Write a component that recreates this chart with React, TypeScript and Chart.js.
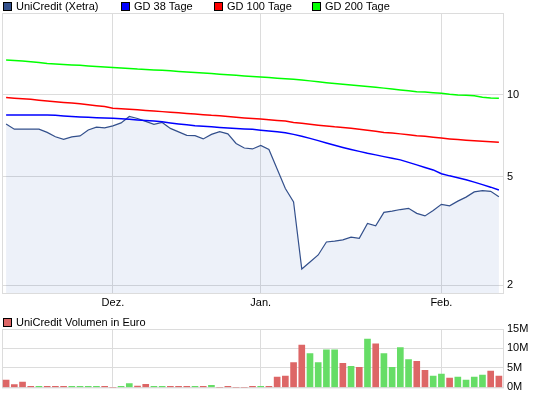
import React, { useEffect, useRef } from 'react';
import { Chart, registerables } from 'chart.js';

Chart.register(...registerables);

// ---- data (one entry per trading day) ----
const priceClose = [
  7.82, 7.48, 7.48, 7.48, 7.48, 7.28, 7.02, 6.87, 7.01, 7.07,
  7.43, 7.61, 7.56, 7.69, 7.89, 8.33, 8.19, 7.99, 7.79, 7.92,
  7.53, 7.31, 7.10, 7.08, 6.89, 7.16, 7.33, 7.19, 6.63, 6.38,
  6.33, 6.52, 6.30, 5.34, 4.53, 4.04, 2.29, 2.43, 2.58, 2.88,
  2.90, 2.93, 3.00, 2.97, 3.37, 3.30, 3.70, 3.74, 3.79, 3.83,
  3.67, 3.59, 3.76, 3.96, 3.91, 4.07, 4.21, 4.40, 4.45, 4.42,
  4.22,
];
const gd38 = [
  8.44, 8.44, 8.44, 8.44, 8.44, 8.44, 8.41, 8.37, 8.33, 8.30,
  8.28, 8.25, 8.23, 8.21, 8.17, 8.13, 8.09, 8.06, 8.02, 7.96,
  7.89, 7.82, 7.76, 7.70, 7.67, 7.63, 7.59, 7.56, 7.53, 7.50,
  7.47, 7.42, 7.37, 7.32, 7.26, 7.16, 7.05, 6.92, 6.79, 6.66,
  6.53, 6.41, 6.30, 6.20, 6.10, 6.02, 5.93, 5.85, 5.77, 5.65,
  5.53, 5.41, 5.30, 5.13, 5.04, 4.96, 4.88, 4.78, 4.68, 4.58,
  4.47,
];
const gd100 = [
  9.79, 9.73, 9.68, 9.63, 9.56, 9.50, 9.44, 9.38, 9.33, 9.27,
  9.20, 9.13, 9.06, 8.94, 8.90, 8.85, 8.81, 8.77, 8.73, 8.68,
  8.63, 8.59, 8.54, 8.50, 8.46, 8.41, 8.38, 8.33, 8.28, 8.23,
  8.19, 8.15, 8.11, 8.06, 8.01, 7.92, 7.86, 7.80, 7.74, 7.69,
  7.63, 7.59, 7.54, 7.47, 7.41, 7.35, 7.28, 7.24, 7.19, 7.14,
  7.08, 7.04, 6.99, 6.94, 6.89, 6.85, 6.81, 6.78, 6.76, 6.73,
  6.70,
];
const gd200 = [
  13.45, 13.39, 13.32, 13.24, 13.16, 13.04, 12.98, 12.94, 12.88, 12.84,
  12.78, 12.73, 12.67, 12.61, 12.55, 12.50, 12.44, 12.40, 12.35, 12.31,
  12.26, 12.20, 12.14, 12.09, 12.03, 11.98, 11.92, 11.86, 11.80, 11.74,
  11.68, 11.63, 11.58, 11.52, 11.47, 11.42, 11.34, 11.26, 11.18, 11.09,
  11.01, 10.94, 10.87, 10.80, 10.74, 10.67, 10.59, 10.51, 10.43, 10.36,
  10.28, 10.24, 10.19, 10.15, 10.06, 10.00, 9.97, 9.92, 9.81, 9.75,
  9.72,
];
const volumeMillions = [
  1.85, 0.75, 1.35, 0.3, 0.3, 0.3, 0.3, 0.3, 0.3, 0.3,
  0.3, 0.3, 0.3, 0, 0.3, 1.0, 0.35, 0.8, 0.3, 0.3,
  0.3, 0.3, 0.3, 0.3, 0.3, 0.55, 0, 0.3, 0, 0,
  0.3, 0.3, 0.3, 2.67, 2.9, 6.4, 10.9, 8.67, 6.4, 9.67,
  9.67, 6.17, 5.4, 5.17, 12.4, 11.2, 8.67, 5.17, 10.2, 7.17,
  6.67, 4.4, 2.9, 3.4, 2.4, 2.67, 1.9, 2.67, 3.17, 4.17,
  2.9,
];
// 1 = up day (green bar), 0 = down day (red bar)
const volumeUp = [
  0, 0, 0, 0, 1, 0, 0, 0, 1, 1,
  1, 1, 0, 0, 1, 1, 0, 0, 1, 1,
  0, 0, 0, 1, 0, 1, 0, 0, 0, 0,
  0, 1, 0, 0, 0, 0, 0, 1, 1, 1,
  1, 0, 1, 0, 1, 0, 1, 1, 1, 1,
  0, 0, 1, 1, 0, 1, 1, 1, 1, 0,
  0,
];
const monthTickIndex = [13, 31, 53];
const monthTickLabel = ['Dez.', 'Jan.', 'Feb.'];
const priceTicks = [2, 5, 10];
const volumeTicks = [0, 5, 10, 15];

const seriesLabels = ['UniCredit (Xetra)', 'GD 38 Tage', 'GD 100 Tage', 'GD 200 Tage'];
const volumeLabel = 'UniCredit Volumen in Euro';

// ---- styles ----
const FONT = '"Liberation Sans", Arial, Helvetica, sans-serif';
const GRID = '#dcdcdc';
const PRICE_COLOR = '#33508c';
const RED = '#dd6666';
const GREEN = '#66dd66';

Chart.defaults.font.family = FONT;
Chart.defaults.font.size = 11;
Chart.defaults.color = '#000';

const framePlugin = {
  id: 'frame',
  beforeDatasetsDraw(chart: any) {
    const { ctx, chartArea: a } = chart;
    ctx.save();
    ctx.strokeStyle = GRID;
    ctx.lineWidth = 1;
    ctx.strokeRect(a.left + 0.5, a.top + 0.5, a.right - a.left, a.bottom - a.top);
    ctx.restore();
  },
};

function makeLegend(items: { label: string; color: string }[], xs: number[], y: number) {
  return {
    id: 'boxLegend',
    afterDraw(chart: any) {
      const ctx = chart.ctx;
      ctx.save();
      ctx.font = `11px ${FONT}`;
      ctx.textBaseline = 'middle';
      ctx.textAlign = 'left';
      items.forEach((it, i) => {
        const x = xs[i];
        ctx.fillStyle = it.color;
        ctx.fillRect(x, y, 9, 9);
        ctx.strokeStyle = '#000';
        ctx.lineWidth = 1;
        ctx.strokeRect(x + 0.5, y + 0.5, 8, 8);
        ctx.fillStyle = '#000';
        ctx.fillText(it.label, x + 13, y + 5);
      });
      ctx.restore();
    },
  };
}

const toPoints = (arr: number[]) => arr.map((v, i) => ({ x: i, y: v }));

export default function App() {
  const priceRef = useRef<HTMLCanvasElement>(null);
  const volRef = useRef<HTMLCanvasElement>(null);

  useEffect(() => {
    document.body.style.margin = '0';
    const xMonthScale = (showLabels: boolean, height: number) => ({
      type: 'linear' as const,
      min: -0.5,
      max: 60.5,
      offset: false,
      afterBuildTicks: (s: any) => {
        s.ticks = monthTickIndex.map((v) => ({ value: v }));
      },
      afterFit: (s: any) => {
        s.height = height;
      },
      grid: { color: GRID, drawTicks: false, offset: false },
      border: { display: false },
      ticks: {
        display: showLabels,
        padding: 3,
        maxRotation: 0,
        autoSkip: false,
        callback: (v: any) => {
          const k = monthTickIndex.indexOf(Number(v));
          return k >= 0 ? monthTickLabel[k] : '';
        },
      },
    });

    const priceChart = new Chart(priceRef.current!, {
      type: 'line',
      data: {
        datasets: [
          {
            label: seriesLabels[0],
            data: toPoints(priceClose),
            borderColor: PRICE_COLOR,
            borderWidth: 1.2,
            backgroundColor: 'rgba(0,51,170,0.07)',
            fill: 'start',
            pointRadius: 0,
            tension: 0,
            order: 10,
          },
          { label: seriesLabels[1], data: toPoints(gd38), borderColor: '#0000ff', borderWidth: 1.5, pointRadius: 0, fill: false, order: 3 },
          { label: seriesLabels[2], data: toPoints(gd100), borderColor: '#ff0000', borderWidth: 1.5, pointRadius: 0, fill: false, order: 2 },
          { label: seriesLabels[3], data: toPoints(gd200), borderColor: '#00ff00', borderWidth: 1.5, pointRadius: 0, fill: false, order: 1 },
        ],
      },
      options: {
        responsive: false,
        animation: false,
        devicePixelRatio: 1,
        events: [],
        layout: { padding: { left: 2, top: 13, right: 0, bottom: 0 } },
        plugins: { legend: { display: false }, tooltip: { enabled: false } },
        scales: {
          x: xMonthScale(true, 22),
          y: {
            type: 'logarithmic',
            position: 'right',
            min: 1.87,
            max: 20,
            afterBuildTicks: (s: any) => {
              s.ticks = priceTicks.map((v) => ({ value: v }));
            },
            afterFit: (s: any) => {
              s.width = 42;
            },
            grid: { color: GRID, drawTicks: false },
            border: { display: false },
            ticks: { padding: 4, callback: (v: any) => String(v) },
          },
        },
      } as any,
      plugins: [
        framePlugin,
        makeLegend(
          [
            { label: seriesLabels[0], color: PRICE_COLOR },
            { label: seriesLabels[1], color: '#0000ff' },
            { label: seriesLabels[2], color: '#ff0000' },
            { label: seriesLabels[3], color: '#00ff00' },
          ],
          [3, 121, 214, 312],
          2
        ),
      ],
    });

    const volChart = new Chart(volRef.current!, {
      type: 'bar',
      data: {
        datasets: [
          {
            label: volumeLabel,
            data: toPoints(volumeMillions),
            backgroundColor: volumeUp.map((u) => (u ? GREEN : RED)),
            borderWidth: 0,
            barThickness: 6,
          },
        ],
      },
      options: {
        responsive: false,
        animation: false,
        devicePixelRatio: 1,
        events: [],
        layout: { padding: { left: 2, top: 14, right: 0, bottom: 9 } },
        plugins: { legend: { display: false }, tooltip: { enabled: false } },
        scales: {
          x: xMonthScale(false, 0),
          y: {
            type: 'linear',
            position: 'right',
            min: 0,
            max: 15,
            afterBuildTicks: (s: any) => {
              s.ticks = volumeTicks.map((v) => ({ value: v }));
            },
            afterFit: (s: any) => {
              s.width = 42;
            },
            grid: { color: GRID, drawTicks: false },
            border: { display: false },
            ticks: { padding: 4, callback: (v: any) => `${v}M` },
          },
        },
      } as any,
      plugins: [framePlugin, makeLegend([{ label: volumeLabel, color: RED }], [3], 3)],
    });

    return () => {
      priceChart.destroy();
      volChart.destroy();
    };
  }, []);

  return (
    <div style={{ position: 'absolute', left: 0, top: 0, width: 545, height: 398, background: '#fff' }}>
      <canvas ref={priceRef} width={545} height={315} style={{ position: 'absolute', left: 0, top: 0 }} />
      <canvas ref={volRef} width={545} height={83} style={{ position: 'absolute', left: 0, top: 315 }} />
    </div>
  );
}
